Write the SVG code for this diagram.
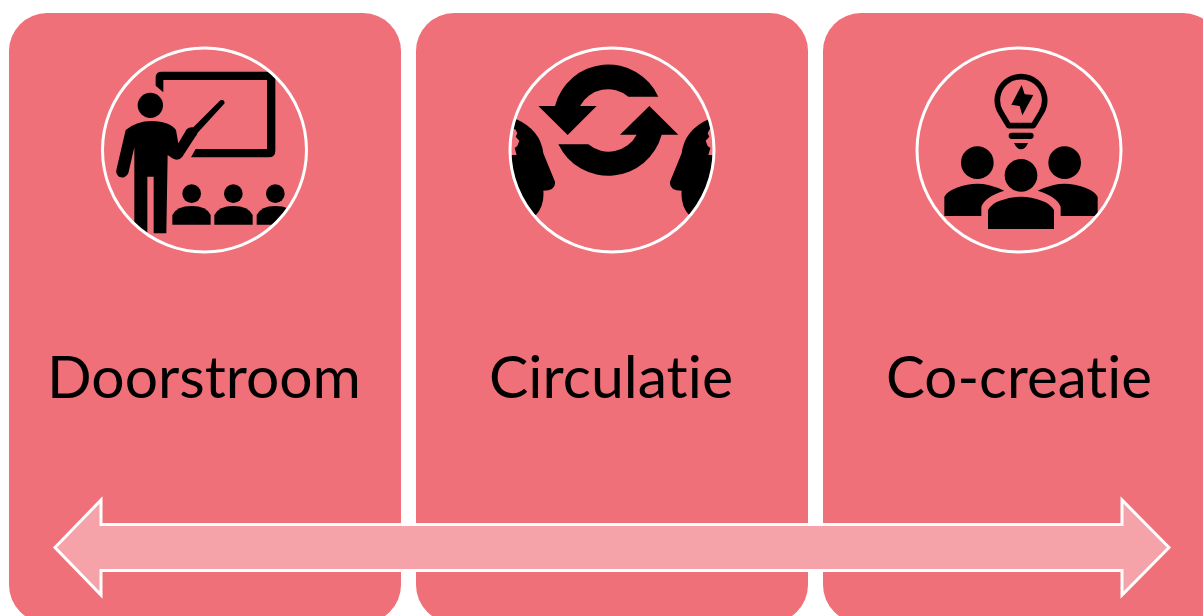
<svg xmlns="http://www.w3.org/2000/svg" width="1203" height="616" viewBox="0 0 1203 616">
<style>
.card{fill:#ef7078}
.ring{fill:none;stroke:#fff;stroke-width:3}
.lbl{font-family:"Lato","Carlito","Liberation Sans",sans-serif;font-size:58px;fill:#000;font-variant-ligatures:none}
.ink{fill:#000}
</style>
<defs>
<clipPath id="c1"><circle cx="330" cy="330" r="305"/></clipPath>
<clipPath id="c2"><circle cx="337" cy="330" r="305"/></clipPath>
<g id="head"><path d="M48,237 Q122,270 130,340 L165,425 Q168,452 130,452 Q134,495 108,525 L20,525 V237 Z"/><path d="M20,268 H46 L52,280 L47,290 L58,302 L52,318 L44,324 L50,345 L20,345 Z" fill="#ef7078"/></g>
</defs>
<rect width="1203" height="616" fill="#fff"/>
<g id="card-doorstroom">
<rect class="card" x="9" y="13" width="392" height="610" rx="38"/>
<g transform="translate(95,40) scale(.33333)"><g clip-path="url(#c1)" class="ink">
<path d="M205,157 L182,137 V112 Q182,95 200,95 H520 Q541,95 541,115 V332 Q541,352 520,352 H288 L302,327 H516 V120 H205 Z"/>
<circle cx="166" cy="196" r="38"/>
<path d="M92,270 Q125,243 170,243 Q225,245 243,270 L250,310 L275,268 Q283,260 295,262 L376,181 Q388,176 389,190 L308,278 Q306,285 300,292 L262,350 Q250,365 232,355 L218,345 L214,580 H176 V410 H157 V590 H118 V322 L100,400 Q90,418 72,410 Q62,402 64,390 Z"/>
<circle cx="290" cy="461" r="28"/><circle cx="415" cy="461" r="28"/><circle cx="541" cy="461" r="28"/>
<path d="M232,554 V525 Q245,498 290,498 Q335,498 347,525 V554 Z"/>
<path d="M358,554 V525 Q371,498 415,498 Q460,498 473,525 V554 Z"/>
<path d="M485,554 V525 Q498,498 541,498 Q586,498 599,525 V554 Z"/>
</g></g>
<circle class="ring" cx="204.500" cy="150" r="102"/>
<text class="lbl" x="47" y="398" textLength="314" lengthAdjust="spacingAndGlyphs">Doorstroom</text>
</g>
<g id="card-circulatie">
<rect class="card" x="416" y="13" width="392" height="610" rx="38"/>
<g transform="translate(500,40) scale(.33333)"><g clip-path="url(#c2)" class="ink">
<path d="M475,170 A165,165 0 0 0 165,198 H115 L203,285 L290,198 H240 A95,95 0 0 1 385,170 Z"/>
<path d="M175,313 A166,166 0 0 0 485,284 H535 L448,198 L360,284 H410 A95,95 0 0 1 265,313 Z"/>
<use href="#head"/>
<use href="#head" transform="translate(675,0) scale(-1,1)"/>
</g></g>
<circle class="ring" cx="612" cy="150" r="102"/>
<text class="lbl" x="489" y="398" textLength="244" lengthAdjust="spacingAndGlyphs">Circulatie</text>
</g>
<g id="card-cocreatie">
<rect class="card" x="823" y="13" width="398" height="610" rx="38"/>
<g transform="translate(910,40) scale(.33333)" class="ink">
<path d="M296,257 L272,217 A71,71 0 1 1 394,217 L370,257 Z" fill="none" stroke="#000" stroke-width="17" stroke-linejoin="round"/>
<rect x="296" y="278" width="75" height="19" rx="9.500"/>
<path d="M312,309 H354 Q346,328 333,328 Q320,328 312,309 Z"/>
<path d="M335,135 L304,194 L329,198 L337,226 L370,165 L344,163 Z"/>
<circle cx="202" cy="368" r="49"/><circle cx="464" cy="368" r="49"/><circle cx="333" cy="406" r="49"/>
<path d="M103,528 V470 Q110,455 140,443 Q190,425 235,435 Q262,442 283,452 Q225,470 214,500 V528 Z"/>
<path d="M563,528 V470 Q556,455 526,443 Q476,425 431,435 Q404,442 383,452 Q441,470 452,500 V528 Z"/>
<path d="M234,567 V510 Q245,490 270,482 Q333,458 395,482 Q420,490 432,510 V567 Z"/>
</g>
<circle class="ring" cx="1019" cy="150" r="102"/>
<text class="lbl" x="886" y="398" textLength="266" lengthAdjust="spacingAndGlyphs">Co-creatie</text>
</g>
<g id="connectors">
<path d="M55,547.500 L101,500 V524.500 H1122 V500 L1169,547.500 L1122,595 V570.500 H101 V595 Z" fill="#f5a3a8" stroke="#fff" stroke-width="3"/>
</g>
</svg>
